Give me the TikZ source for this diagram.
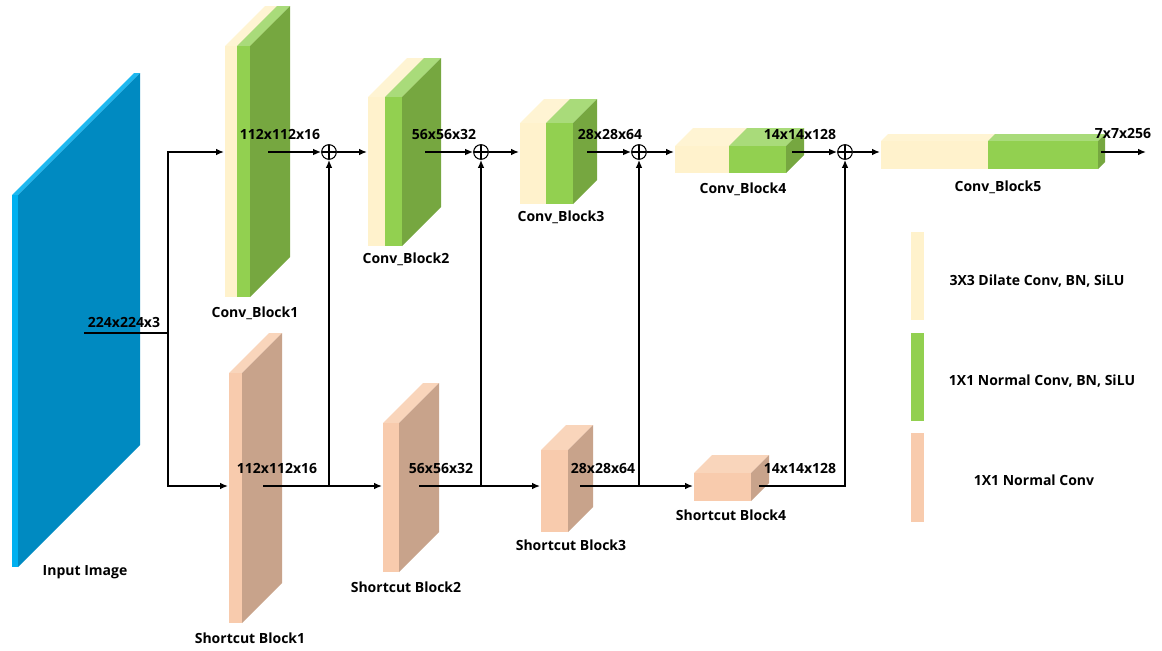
\documentclass[tikz,border=0pt]{standalone}
\usepackage{fontspec}
\setmainfont{Open Sans}
\usetikzlibrary{arrows.meta}
\definecolor{cream}{HTML}{FFF2CC}
\definecolor{creamtop}{HTML}{FFF4D3}
\definecolor{creamside}{HTML}{F2E4BC}
\definecolor{green}{HTML}{92D050}
\definecolor{greentop}{HTML}{A9DB7A}
\definecolor{greenside}{HTML}{76A740}
\definecolor{peach}{HTML}{F8CBAD}
\definecolor{peachtop}{HTML}{F9D5BB}
\definecolor{peachside}{HTML}{C8A38B}
\definecolor{imgblue}{HTML}{00B0F0}
\definecolor{imgbluetop}{HTML}{1DB8F0}
\definecolor{imgblueside}{HTML}{008AC1}
% x, y (top left of front face), width, height, depth, colour
\newcommand{\slab}[6]{%
  \fill[#6top] (#1,#2) -- ++(#5,-#5) -- ++(#3,0) -- ++(-#5,#5) -- cycle;
  \fill[#6side] (#1+#3,#2) -- ++(#5,-#5) -- ++(0,#4) -- ++(-#5,#5) -- cycle;
  \fill[#6] (#1,#2) rectangle ++(#3,#4);}

\begin{document}
\begin{tikzpicture}[x=0.75pt, y=-0.75pt,
  lbl/.style={font=\bfseries\fontsize{10.5}{12}\selectfont, inner sep=1pt},
  arr/.style={-{Latex[length=6pt,width=5pt]}, line width=1.1pt},
  wire/.style={line width=1.1pt},
  add/.style={circle, draw, line width=0.8pt, minimum size=11pt, inner sep=0pt, fill=white,
              path picture={\draw[line width=0.8pt] (path picture bounding box.north) -- (path picture bounding box.south)
                                                   (path picture bounding box.west) -- (path picture bounding box.east);}}]
  \useasboundingbox (0,0) rectangle (1162,650);

  % input image
  \slab{12}{195}{6}{372}{122}{imgblue}
  % conv path
  \slab{225}{46}{12}{251}{40}{cream}  \slab{237}{46}{13}{251}{40}{green}
  \slab{368}{97}{17}{149}{39}{cream}  \slab{385}{97}{17}{149}{39}{green}
  \slab{520}{123}{26}{81}{24}{cream}  \slab{546}{123}{27}{81}{24}{green}
  \slab{675}{146}{54}{27}{18}{cream}  \slab{729}{146}{57}{27}{18}{green}
  \slab{881}{141}{107}{28}{7}{cream}  \slab{988}{141}{110}{28}{7}{green}
  % shortcut path
  \slab{229}{373}{13}{250}{40}{peach}
  \slab{383}{423}{16}{149}{40}{peach}
  \slab{541}{450}{27}{82}{25}{peach}
  \slab{694}{473}{57}{28}{18}{peach}

  % block names
  \node[lbl] (img) at (85,572) {Input Image};
  \node[lbl] (cb1) at (255,313) {Conv\_Block1};
  \node[lbl] (cb2) at (406,259) {Conv\_Block2};
  \node[lbl] (cb3) at (561,217) {Conv\_Block3};
  \node[lbl] (cb4) at (743,189) {Conv\_Block4};
  \node[lbl] (cb5) at (998,187) {Conv\_Block5};
  \node[lbl] (sc1) at (250,638) {Shortcut Block1};
  \node[lbl] (sc2) at (406,587) {Shortcut Block2};
  \node[lbl] (sc3) at (571,545) {Shortcut Block3};
  \node[lbl] (sc4) at (731,515) {Shortcut Block4};

  % ports
  \coordinate (img-out) at (84,333);
  \coordinate (split) at (168,333);
  \coordinate (cb1-in) at (224,152);  \coordinate (cb1-out) at (268,152);
  \coordinate (cb2-in) at (367,152);  \coordinate (cb2-out) at (425,152);
  \coordinate (cb3-in) at (519,152);  \coordinate (cb3-out) at (587,152);
  \coordinate (cb4-in) at (674,152);  \coordinate (cb4-out) at (792,152);
  \coordinate (cb5-in) at (880,152);  \coordinate (cb5-out) at (1101,152);
  \coordinate (end) at (1146,152);
  \coordinate (sc1-in) at (228,486);  \coordinate (sc1-out) at (263,486);
  \coordinate (sc2-in) at (382,486);  \coordinate (sc2-out) at (419,486);
  \coordinate (sc3-in) at (540,486);  \coordinate (sc3-out) at (580,486);
  \coordinate (sc4-in) at (693,486);  \coordinate (sc4-out) at (759,486);
  \node[add] (add1) at (329,152) {};
  \node[add] (add2) at (481,152) {};
  \node[add] (add3) at (639,152) {};
  \node[add] (add4) at (845,152) {};

  % connectors
  \draw[wire] (img-out) -- (split);
  \draw[arr] (split) |- (cb1-in);
  \draw[arr] (split) |- (sc1-in);
  \draw[arr] (cb1-out) -- (add1);  \draw[arr] (add1) -- (cb2-in);
  \draw[arr] (cb2-out) -- (add2);  \draw[arr] (add2) -- (cb3-in);
  \draw[arr] (cb3-out) -- (add3);  \draw[arr] (add3) -- (cb4-in);
  \draw[arr] (cb4-out) -- (add4);  \draw[arr] (add4) -- (cb5-in);
  \draw[arr] (cb5-out) -- (end);
  \draw[arr] (sc1-out) -- (sc2-in);
  \draw[arr] (sc2-out) -- (sc3-in);
  \draw[arr] (sc3-out) -- (sc4-in);
  \draw[arr] (sc1-out -| add1) -- (add1);
  \draw[arr] (sc2-out -| add2) -- (add2);
  \draw[arr] (sc3-out -| add3) -- (add3);
  \draw[arr] (sc4-out) -| (add4);

  % sizes
  \node[lbl] at (124,322) {224x224x3};
  \node[lbl] at (280,134) {112x112x16};
  \node[lbl] at (444,134) {56x56x32};
  \node[lbl] at (610,134) {28x28x64};
  \node[lbl] at (800,134) {14x14x128};
  \node[lbl] at (1123,133) {7x7x256};
  \node[lbl] at (277,468) {112x112x16};
  \node[lbl] at (441,468) {56x56x32};
  \node[lbl] at (603,468) {28x28x64};
  \node[lbl] at (800,468) {14x14x128};

  % legend
  \fill[cream] (911,232) rectangle (924,320);
  \fill[green] (911,333) rectangle (924,421);
  \fill[peach] (911,433) rectangle (924,522);
  \node[lbl] (leg1) at (1037,281) {3X3 Dilate Conv, BN, SiLU};
  \node[lbl] (leg2) at (1042,381) {1X1 Normal Conv, BN, SiLU};
  \node[lbl] (leg3) at (1034,480) {1X1 Normal Conv};
\end{tikzpicture}
\end{document}
